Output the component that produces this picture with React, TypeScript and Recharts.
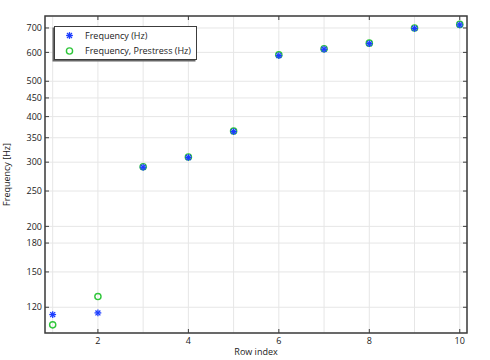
import React from "react";
import {
  ScatterChart,
  Scatter,
  XAxis,
  YAxis,
  CartesianGrid,
  ReferenceArea,
  Label
} from "recharts";

const rowIndex = [1, 2, 3, 4, 5, 6, 7, 8, 9, 10];
const frequency = [114.6, 115.8, 290.5, 309, 364, 588, 612, 634, 698, 714];
const frequencyPrestress = [107.4, 128.4, 291.5, 310, 365, 591, 614, 636, 700, 716];

const xTicks = [2, 4, 6, 8, 10];
const xGridTicks = [1, 2, 3, 4, 5, 6, 7, 8, 9, 10];
const yTicks = [120, 150, 180, 200, 250, 300, 350, 400, 450, 500, 600, 700];

const X_DOMAIN: [number, number] = [0.83, 10.16];
const Y_DOMAIN: [number, number] = [102, 755];

const FONT = "'Open Sans', sans-serif";
const TEXT = "#222";
const FRAME = "#3c3c3c";
const BLUE = "#1c3dff";
const GREEN = "#2fc63a";
const TICK_LEN = 4;
const MARGIN = 3;

const freqData = rowIndex.map((x, i) => ({ x, y: frequency[i] }));
const prestressData = rowIndex.map((x, i) => ({ x, y: frequencyPrestress[i] }));

function Asterisk({ cx, cy }: { cx?: number; cy?: number }) {
  if (cx == null || cy == null) return null;
  const r = 3.4;
  const d = r * 0.72;
  return (
    <g stroke={BLUE} strokeWidth={1.3}>
      <line x1={cx - r} y1={cy} x2={cx + r} y2={cy} />
      <line x1={cx} y1={cy - r} x2={cx} y2={cy + r} />
      <line x1={cx - d} y1={cy - d} x2={cx + d} y2={cy + d} />
      <line x1={cx - d} y1={cy + d} x2={cx + d} y2={cy - d} />
    </g>
  );
}

function Ring({ cx, cy }: { cx?: number; cy?: number }) {
  if (cx == null || cy == null) return null;
  return <circle cx={cx} cy={cy} r={3.1} fill="none" stroke={GREEN} strokeWidth={1.4} />;
}

// ticks point into the plot, labels stay outside
function BottomTick(props: any) {
  const { x, y, payload } = props;
  const y0 = y - MARGIN;
  return (
    <g>
      <line x1={x} y1={y0} x2={x} y2={y0 - TICK_LEN} stroke={FRAME} />
      <text x={x} y={y} dy="0.85em" textAnchor="middle" fill={TEXT} fontSize={9} fontFamily={FONT}>
        {payload.value}
      </text>
    </g>
  );
}

function TopTick(props: any) {
  const { x, y } = props;
  const y0 = y + MARGIN;
  return <line x1={x} y1={y0} x2={x} y2={y0 + TICK_LEN} stroke={FRAME} />;
}

function LeftTick(props: any) {
  const { x, y, payload } = props;
  const x0 = x + MARGIN;
  return (
    <g>
      <line x1={x0} y1={y} x2={x0 + TICK_LEN} y2={y} stroke={FRAME} />
      <text x={x} y={y} dy="0.35em" textAnchor="end" fill={TEXT} fontSize={9} fontFamily={FONT}>
        {payload.value}
      </text>
    </g>
  );
}

function RightTick(props: any) {
  const { x, y } = props;
  const x0 = x - MARGIN;
  return <line x1={x0} y1={y} x2={x0 - TICK_LEN} y2={y} stroke={FRAME} />;
}

function LegendBox() {
  return (
    <div
      style={{
        position: "absolute",
        left: 54,
        top: 26,
        width: 143,
        height: 34,
        boxSizing: "border-box",
        border: `1px solid ${FRAME}`,
        boxShadow: "-1.5px 1.5px 0 #666",
        background: "#fff"
      }}
    >
      <svg width={141} height={32} style={{ display: "block" }}>
        <Asterisk cx={14.5} cy={8.5} />
        <text x={30} y={8.5} dy="0.35em" fill={TEXT} fontSize={9} fontFamily={FONT}>
          Frequency (Hz)
        </text>
        <Ring cx={14.5} cy={24} />
        <text x={30} y={24} dy="0.35em" fill={TEXT} fontSize={9} fontFamily={FONT}>
          Frequency, Prestress (Hz)
        </text>
      </svg>
    </div>
  );
}

export default function App() {
  return (
    <div style={{ position: "absolute", left: 0, top: 0, width: 490, height: 360, background: "#fff" }}>
      <ScatterChart width={490} height={360} margin={{ top: 15, right: 22, bottom: 0, left: 0 }}>
        <CartesianGrid xAxisId="grid" yAxisId="left" stroke="#e6e6e6" strokeWidth={1} />
        <XAxis
          xAxisId="grid"
          dataKey="x"
          type="number"
          domain={X_DOMAIN}
          ticks={xGridTicks}
          interval={0}
          allowDataOverflow
          hide
        />
        <XAxis
          xAxisId="bottom"
          dataKey="x"
          type="number"
          domain={X_DOMAIN}
          ticks={xTicks}
          interval={0}
          allowDataOverflow
          height={27}
          tickSize={0}
          tickMargin={MARGIN}
          tick={<BottomTick />}
          axisLine={false}
        >
          <Label
            value="Row index"
            position="insideBottom"
            offset={5}
            style={{ fontSize: 9, fontFamily: FONT, fill: TEXT }}
          />
        </XAxis>
        <XAxis
          xAxisId="top"
          orientation="top"
          dataKey="x"
          type="number"
          domain={X_DOMAIN}
          ticks={xTicks}
          interval={0}
          allowDataOverflow
          height={1}
          tickSize={0}
          tickMargin={MARGIN}
          tick={<TopTick />}
          axisLine={false}
        />
        <YAxis
          yAxisId="left"
          dataKey="y"
          type="number"
          scale="log"
          domain={Y_DOMAIN}
          ticks={yTicks}
          interval={0}
          allowDataOverflow
          width={45}
          tickSize={0}
          tickMargin={MARGIN}
          tick={<LeftTick />}
          axisLine={false}
        >
          <Label
            value="Frequency [Hz]"
            angle={-90}
            position="insideLeft"
            offset={7}
            style={{ fontSize: 9, fontFamily: FONT, fill: TEXT, textAnchor: "middle" }}
          />
        </YAxis>
        <YAxis
          yAxisId="right"
          orientation="right"
          dataKey="y"
          type="number"
          scale="log"
          domain={Y_DOMAIN}
          ticks={yTicks}
          interval={0}
          allowDataOverflow
          width={1}
          tickSize={0}
          tickMargin={MARGIN}
          tick={<RightTick />}
          axisLine={false}
        />
        <ReferenceArea
          xAxisId="bottom"
          yAxisId="left"
          x1={X_DOMAIN[0]}
          x2={X_DOMAIN[1]}
          y1={Y_DOMAIN[0]}
          y2={Y_DOMAIN[1]}
          fill="none"
          fillOpacity={0}
          stroke={FRAME}
          strokeWidth={1.5}
          ifOverflow="visible"
        />
        {/* keeps the top/right axes bound to data so they are drawn */}
        <Scatter
          data={freqData}
          xAxisId="top"
          yAxisId="right"
          shape={() => <g />}
          legendType="none"
          isAnimationActive={false}
        />
        <Scatter
          name="Frequency, Prestress (Hz)"
          data={prestressData}
          xAxisId="bottom"
          yAxisId="left"
          shape={(p: any) => <Ring cx={p.cx} cy={p.cy} />}
          isAnimationActive={false}
        />
        <Scatter
          name="Frequency (Hz)"
          data={freqData}
          xAxisId="bottom"
          yAxisId="left"
          shape={(p: any) => <Asterisk cx={p.cx} cy={p.cy} />}
          isAnimationActive={false}
        />
      </ScatterChart>
      <LegendBox />
    </div>
  );
}
